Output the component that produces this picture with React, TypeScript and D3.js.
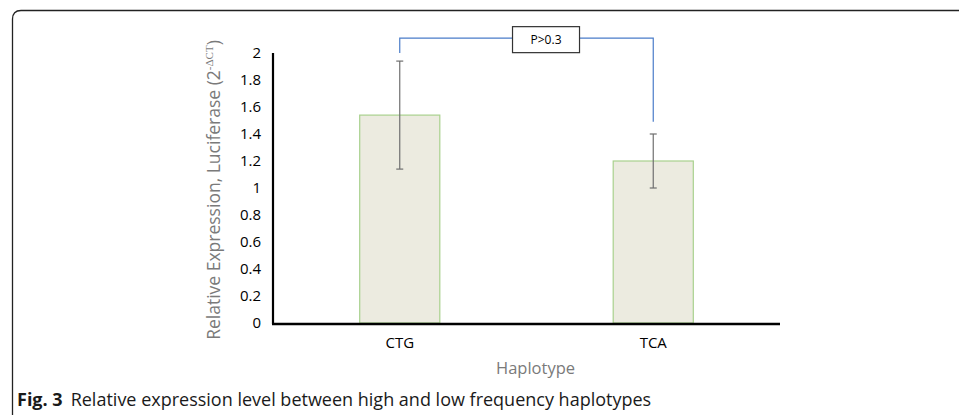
import { useEffect, useRef } from "react";
import * as d3 from "d3";

const WIDTH = 959;
const HEIGHT = 415;

// data
const HAPLOTYPES = ["CTG", "TCA"];
const MEANS = [1.54, 1.2];
const ERRORS = [0.4, 0.2];
const Y_TICKS = [0, 0.2, 0.4, 0.6, 0.8, 1, 1.2, 1.4, 1.6, 1.8, 2];

// significance bracket: [from, to], top level and leg ends (in y units)
const BRACKET_PAIR = ["CTG", "TCA"];
const BRACKET_TOP = 2.11;
const BRACKET_ENDS = [2.0, 1.49];
const BRACKET_LABEL = "P>0.3";

const BAR_FILL = "#ecebe0";
const BAR_STROKE = "#a9d18e";
const ERR_COLOR = "#6f6f6f";
const BRACKET_COLOR = "#4a7cc9";
const GRAY_TEXT = "#7a7a7a";
const FONT = "'Open Sans', 'Noto Sans', sans-serif";

const PLOT = { left: 273, right: 780, top: 53, bottom: 323 };

export default function App() {
  const ref = useRef<SVGSVGElement>(null);

  useEffect(() => {
    const svg = d3.select(ref.current);
    svg.selectAll("*").remove();
    svg.attr("width", WIDTH).attr("height", HEIGHT);

    // panel frame (rounded top-left corner)
    svg
      .append("path")
      .attr("d", `M12.5,${HEIGHT + 2} V19 Q12.5,10.5 21,10.5 H${WIDTH + 2}`)
      .attr("fill", "none")
      .attr("stroke", "#222")
      .attr("stroke-width", 1.3);

    const x = d3.scaleBand().domain(HAPLOTYPES).range([PLOT.left, PLOT.right]).padding(0);
    const y = d3.scaleLinear().domain([0, 2]).range([PLOT.bottom, PLOT.top]);
    const barW = x.bandwidth() * 0.316;
    const cx = (h: string) => (x(h) ?? 0) + x.bandwidth() / 2;

    const g = svg.append("g");

    // bars
    g.selectAll("rect.bar")
      .data(HAPLOTYPES)
      .join("rect")
      .attr("class", "bar")
      .attr("x", (d) => cx(d) - barW / 2)
      .attr("y", (_, i) => y(MEANS[i]))
      .attr("width", barW)
      .attr("height", (_, i) => y(0) - y(MEANS[i]))
      .attr("fill", BAR_FILL)
      .attr("stroke", BAR_STROKE)
      .attr("stroke-width", 1.2);

    // error bars
    HAPLOTYPES.forEach((h, i) => {
      const c = cx(h);
      const hi = y(MEANS[i] + ERRORS[i]);
      const lo = y(MEANS[i] - ERRORS[i]);
      g.append("line")
        .attr("x1", c).attr("x2", c).attr("y1", hi).attr("y2", lo)
        .attr("stroke", ERR_COLOR).attr("stroke-width", 1.2);
      [hi, lo].forEach((yy) =>
        g.append("line")
          .attr("x1", c - 3.5).attr("x2", c + 3.5).attr("y1", yy).attr("y2", yy)
          .attr("stroke", ERR_COLOR).attr("stroke-width", 1.2)
      );
    });

    // axes (lines only, no ticks)
    g.append("line")
      .attr("x1", PLOT.left).attr("x2", PLOT.left)
      .attr("y1", y(2)).attr("y2", y(0) + 1)
      .attr("stroke", "#000").attr("stroke-width", 2.2);
    g.append("line")
      .attr("x1", PLOT.left - 1).attr("x2", PLOT.right)
      .attr("y1", y(0) + 1).attr("y2", y(0) + 1)
      .attr("stroke", "#000").attr("stroke-width", 2.4);

    // y tick labels
    g.selectAll("text.ytick")
      .data(Y_TICKS)
      .join("text")
      .attr("class", "ytick")
      .attr("x", 261)
      .attr("y", (d) => y(d))
      .attr("dy", "0.35em")
      .attr("text-anchor", "end")
      .attr("font-family", FONT)
      .attr("font-size", 15)
      .attr("fill", "#000")
      .text((d) => String(d));

    // x tick labels
    g.selectAll("text.xtick")
      .data(HAPLOTYPES)
      .join("text")
      .attr("class", "xtick")
      .attr("x", (d) => cx(d))
      .attr("y", 343)
      .attr("dy", "0.35em")
      .attr("text-anchor", "middle")
      .attr("font-family", FONT)
      .attr("font-size", 15)
      .attr("fill", "#000")
      .text((d) => d);

    // axis titles
    g.append("text")
      .attr("x", (PLOT.left + PLOT.right) / 2 + 9)
      .attr("y", 368)
      .attr("dy", "0.35em")
      .attr("text-anchor", "middle")
      .attr("font-family", FONT)
      .attr("font-size", 16.5)
      .attr("fill", GRAY_TEXT)
      .text("Haplotype");

    const yt = g.append("text")
      .attr("transform", `translate(220,190) rotate(-90)`)
      .attr("text-anchor", "middle")
      .attr("font-family", FONT)
      .attr("font-size", 17.5)
      .attr("fill", GRAY_TEXT);
    yt.append("tspan").text("Relative Expression, Luciferase (2");
    yt.append("tspan")
      .attr("dy", -7)
      .attr("font-size", 11)
      .attr("font-family", "'Liberation Serif', serif")
      .text("-\u0394CT");
    yt.append("tspan").attr("dy", 7).text(")");

    // significance bracket
    const [a, b] = BRACKET_PAIR;
    const xa = cx(a);
    const xb = cx(b);
    const yTop = y(BRACKET_TOP);
    g.append("path")
      .attr("d", `M${xa},${y(BRACKET_ENDS[0])} V${yTop} H${xb} V${y(BRACKET_ENDS[1])}`)
      .attr("fill", "none")
      .attr("stroke", BRACKET_COLOR)
      .attr("stroke-width", 1.2);

    const boxCx = xa + (xb - xa) * 0.577;
    const boxW = 67;
    const boxH = 26;
    g.append("rect")
      .attr("x", boxCx - boxW / 2)
      .attr("y", yTop - 11.5)
      .attr("width", boxW)
      .attr("height", boxH)
      .attr("fill", "#fff")
      .attr("stroke", "#333")
      .attr("stroke-width", 1.2);
    g.append("text")
      .attr("x", boxCx)
      .attr("y", yTop - 11.5 + boxH / 2)
      .attr("dy", "0.35em")
      .attr("text-anchor", "middle")
      .attr("font-family", FONT)
      .attr("font-size", 12)
      .attr("fill", "#000")
      .text(BRACKET_LABEL);

    // caption
    const cap = svg.append("text")
      .attr("x", 17)
      .attr("y", 406)
      .attr("font-family", FONT)
      .attr("font-size", 18)
      .attr("fill", "#1a1a1a");
    cap.append("tspan").attr("font-weight", 700).text("Fig. 3");
    cap.append("tspan").attr("dx", 8).text("Relative expression level between high and low frequency haplotypes");
  }, []);

  return (
    <div style={{ position: "fixed", left: 0, top: 0, background: "#fff" }}>
      <svg ref={ref} style={{ display: "block" }} />
    </div>
  );
}
